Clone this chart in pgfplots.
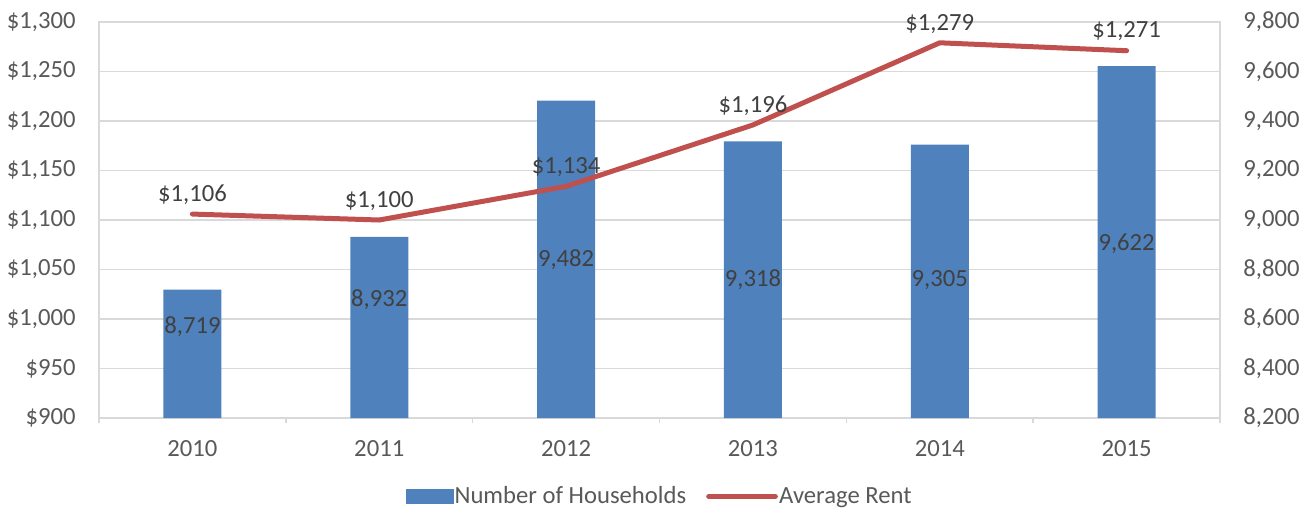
\documentclass[border=0pt]{standalone}
\usepackage{fontspec}
\setmainfont{Carlito}
\usepackage{pgfplots}
\pgfplotsset{compat=1.18}

\definecolor{barblue}{HTML}{4F81BD}
\definecolor{rentred}{HTML}{C0504D}
\definecolor{gridgray}{HTML}{D9D9D9}
\definecolor{labelgray}{HTML}{595959}
\definecolor{datagray}{HTML}{404040}

\begin{document}
\begin{tikzpicture}[font=\fontsize{18.5}{22}\selectfont]
% households on the right axis, drawn first so the line sits on top
\begin{axis}[
  at={(0,0)}, anchor=south west,
  scale only axis,
  width=840.75pt, height=297pt,
  xmin=-0.5, xmax=5.5,
  ymin=8200, ymax=9800,
  ytick={8200,8400,...,9800},
  xtick={0,...,5},
  xticklabels={2010,2011,2012,2013,2014,2015},
  minor xtick={-0.5,0.5,...,5.5},
  xtick pos=bottom,
  yticklabel pos=right,
  major tick length=0pt,
  minor tick length=4pt,
  tick align=outside,
  minor tick style={gridgray, line width=1.2pt},
  axis line style={gridgray, line width=1.2pt},
  ymajorgrids,
  grid style={gridgray, line width=1.2pt},
  /pgf/number format/assume math mode=true,
  /pgf/number format/1000 sep={,},
  yticklabel style={labelgray, xshift=14pt},
  xticklabel style={labelgray, yshift=-13pt},
]
\addplot[ybar, bar width=43.5pt, fill=barblue, draw=none] coordinates {
  (0,8719) (1,8932) (2,9482) (3,9318) (4,9305) (5,9622)
};
\node[datagray] at (axis cs:0,8568) {8,719};
\node[datagray] at (axis cs:1,8677) {8,932};
\node[datagray] at (axis cs:2,8838) {9,482};
\node[datagray] at (axis cs:3,8758) {9,318};
\node[datagray] at (axis cs:4,8758) {9,305};
\node[datagray] at (axis cs:5,8903) {9,622};
\end{axis}

% average rent on the left axis
\begin{axis}[
  at={(0,0)}, anchor=south west,
  scale only axis,
  width=840.75pt, height=297pt,
  xmin=-0.5, xmax=5.5,
  ymin=900, ymax=1300,
  ytick={900,950,...,1300},
  xtick=\empty,
  yticklabel pos=left,
  major tick length=0pt,
  axis line style={draw=none},
  /pgf/number format/assume math mode=true,
  /pgf/number format/1000 sep={,},
  yticklabel={\$\pgfmathprintnumber{\tick}},
  yticklabel style={labelgray, xshift=-14pt},
  legend style={at={(0.5,-0.198)}, anchor=center, draw=none, fill=none,
    legend columns=2, text=labelgray,
    /tikz/every even column/.append style={column sep=14pt},
    nodes={inner sep=1pt}},
]
\addlegendimage{legend image code/.code={\fill[barblue] (0pt,-5.5pt) rectangle (35pt,5pt);}}
\addlegendentry{Number of Households}
\addplot[rentred, line width=3.75pt, line cap=round, line join=round,
  nodes near coords={\$\pgfmathprintnumber{\pgfplotspointmeta}},
  every node near coord/.append style={datagray, anchor=south, yshift=2pt},
  legend image code/.code={\draw[rentred, line width=3.75pt, line cap=round] (0pt,0pt) -- (50pt,0pt);}
] coordinates {
  (0,1106) (1,1100) (2,1134) (3,1196) (4,1279) (5,1271)
};
\addlegendentry{Average Rent}
\end{axis}

\pgfresetboundingbox
\useasboundingbox (-74.25pt,-70.5pt) rectangle (900.75pt,313.5pt);
\end{tikzpicture}
\end{document}
